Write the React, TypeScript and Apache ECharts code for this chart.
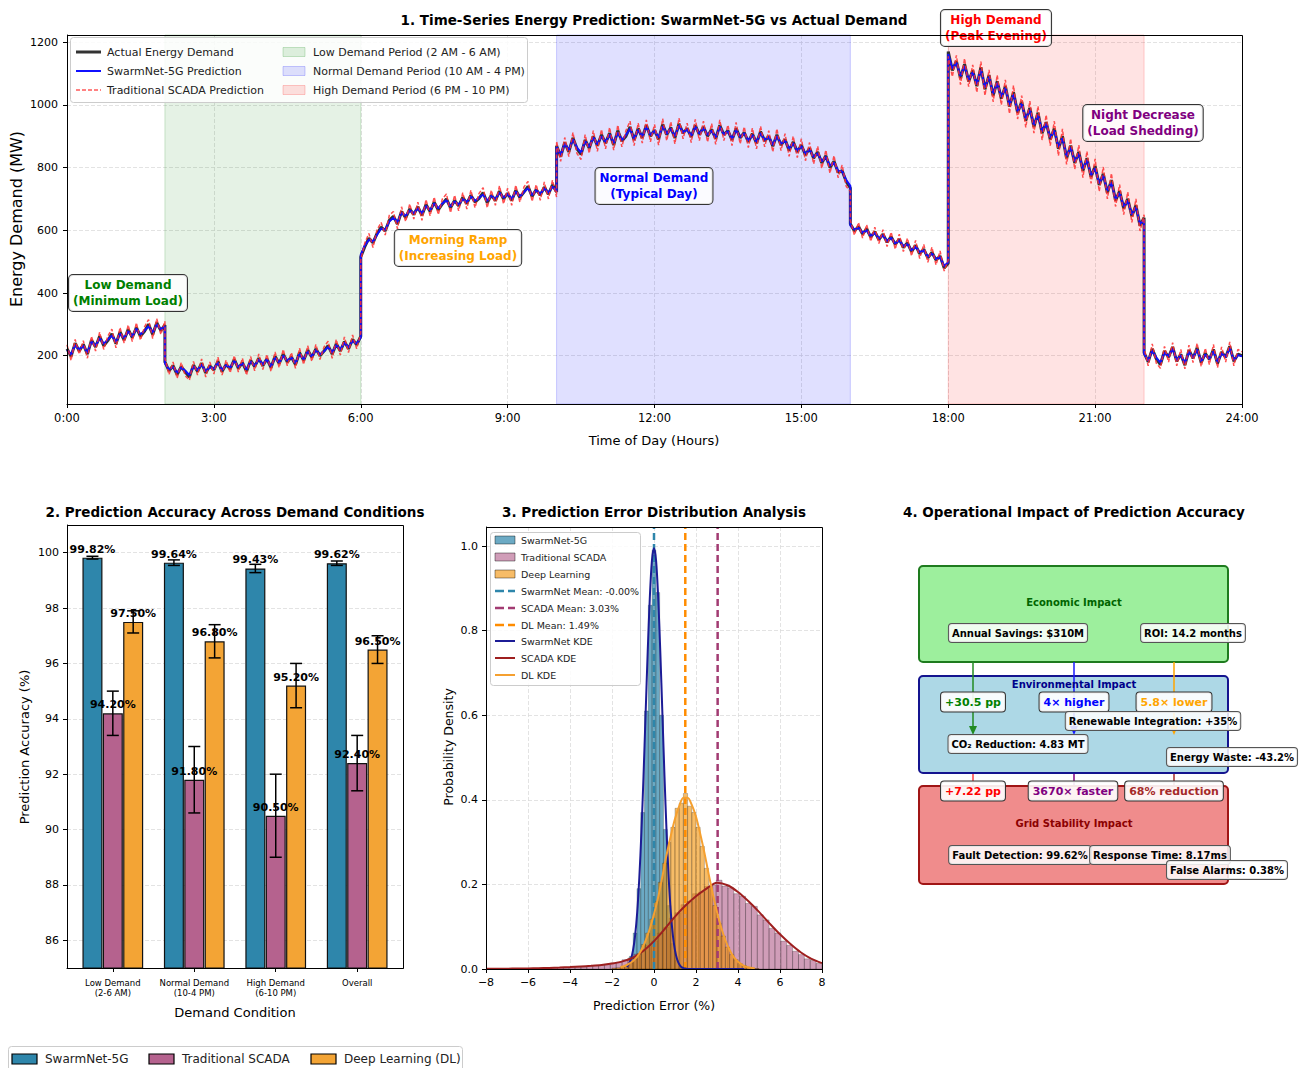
import React, { useEffect, useRef } from 'react';
import * as echarts from 'echarts';

const FONT = '"DejaVu Sans", sans-serif';

// ---------------- Panel 1: time series (5-minute readings per period) ----------------
const SEGMENT_BOUNDS = [[0, 2], [2, 6], [6, 10], [10, 16], [16, 18], [18, 22], [22, 24]];

const ACTUAL_EARLY = [222, 198, 240, 215, 236, 205, 250, 228, 262, 232, 248, 270, 238, 276, 250, 284, 258, 290, 262, 278, 300, 268, 305, 280, 298];
const ACTUAL_LOW = [180, 152, 168, 140, 165, 148, 132, 170, 150, 176, 145, 168, 155, 182, 150, 172, 158, 188, 160, 178, 150, 185, 165, 192, 168, 190, 162, 198, 175, 205, 180, 196, 172, 210, 185, 218, 195, 222, 200, 215, 232, 205, 238, 215, 245, 222, 252, 235, 262];
const ACTUAL_MORNING = [515, 548, 575, 560, 590, 610, 598, 632, 645, 620, 660, 640, 668, 650, 675, 648, 682, 660, 690, 665, 684, 700, 672, 695, 678, 705, 685, 712, 690, 702, 720, 688, 712, 695, 725, 700, 718, 695, 728, 705, 722, 740, 708, 730, 712, 738, 715, 745, 722];
const ACTUAL_NORMAL = [870, 835, 880, 850, 895, 860, 842, 888, 862, 900, 870, 905, 878, 910, 872, 918, 885, 900, 930, 888, 925, 895, 935, 900, 920, 890, 938, 905, 928, 895, 940, 910, 925, 898, 935, 905, 930, 900, 922, 892, 935, 905, 918, 888, 925, 895, 912, 882, 908, 878, 915, 885, 900, 868, 905, 872, 890, 855, 882, 850, 872, 840, 862, 830, 850, 815, 838, 800, 820, 785, 790, 755, 735];
const ACTUAL_AFTERNOON = [620, 598, 612, 588, 605, 578, 596, 570, 588, 562, 580, 555, 572, 545, 560, 532, 552, 525, 540, 512, 530, 505, 518, 480, 495];
const ACTUAL_HIGH = [1170, 1110, 1140, 1085, 1130, 1075, 1110, 1060, 1120, 1050, 1095, 1030, 1075, 1020, 1060, 995, 1040, 975, 1010, 950, 990, 930, 975, 910, 945, 890, 925, 860, 900, 830, 870, 815, 850, 790, 830, 770, 805, 745, 780, 720, 760, 695, 725, 670, 700, 645, 680, 615, 640];
const ACTUAL_NIGHT = [210, 180, 222, 190, 172, 215, 195, 228, 182, 205, 170, 218, 192, 225, 178, 208, 188, 220, 175, 212, 195, 230, 182, 205, 200];

const SWARM_EARLY = [218, 204, 234, 220, 232, 210, 245, 232, 256, 238, 252, 264, 244, 270, 256, 278, 262, 286, 268, 280, 294, 274, 300, 284, 294];
const SWARM_LOW = [176, 156, 164, 146, 162, 152, 138, 166, 154, 172, 150, 164, 158, 178, 154, 170, 162, 184, 164, 176, 156, 182, 168, 188, 172, 188, 166, 194, 178, 200, 184, 194, 176, 206, 188, 214, 198, 218, 204, 214, 228, 210, 234, 220, 242, 226, 248, 238, 258];
const SWARM_MORNING = [522, 552, 570, 564, 586, 606, 602, 628, 640, 626, 656, 646, 664, 654, 670, 654, 678, 664, 686, 670, 686, 696, 676, 692, 682, 700, 690, 708, 694, 704, 714, 694, 710, 700, 720, 704, 716, 700, 724, 708, 722, 734, 712, 728, 716, 734, 720, 740, 724];
const SWARM_NORMAL = [866, 840, 876, 856, 890, 864, 848, 884, 866, 896, 874, 900, 882, 906, 878, 912, 888, 904, 924, 892, 920, 900, 930, 904, 918, 896, 932, 908, 924, 900, 934, 912, 922, 902, 930, 908, 926, 904, 918, 896, 930, 906, 916, 892, 920, 898, 910, 886, 904, 882, 910, 888, 898, 872, 900, 876, 886, 860, 878, 854, 868, 844, 858, 834, 846, 820, 834, 806, 816, 790, 788, 760, 742];
const SWARM_AFTERNOON = [616, 602, 608, 592, 600, 582, 592, 574, 584, 566, 576, 558, 568, 550, 556, 536, 548, 530, 536, 516, 526, 508, 514, 486, 498];
const SWARM_HIGH = [1162, 1116, 1134, 1092, 1124, 1080, 1104, 1066, 1112, 1056, 1090, 1036, 1070, 1026, 1054, 1000, 1034, 980, 1004, 956, 984, 936, 968, 916, 940, 896, 918, 866, 894, 836, 864, 820, 844, 796, 824, 776, 798, 750, 774, 726, 752, 700, 720, 676, 694, 650, 674, 620, 634];
const SWARM_NIGHT = [206, 184, 216, 194, 178, 210, 198, 222, 186, 202, 176, 212, 194, 220, 182, 204, 190, 214, 180, 208, 196, 224, 186, 202, 198];

const SCADA_EARLY = [235, 185, 252, 205, 248, 192, 262, 215, 275, 220, 262, 285, 225, 290, 240, 298, 245, 305, 250, 292, 315, 255, 318, 268, 310];
const SCADA_LOW = [192, 140, 180, 128, 178, 136, 122, 182, 138, 190, 132, 180, 142, 195, 138, 186, 146, 200, 148, 192, 138, 198, 152, 206, 156, 204, 150, 212, 162, 220, 168, 210, 160, 224, 172, 232, 182, 236, 188, 228, 246, 192, 252, 202, 260, 210, 266, 222, 272];
const SCADA_MORNING = [505, 560, 590, 545, 602, 625, 585, 648, 660, 605, 675, 628, 684, 636, 690, 632, 698, 646, 706, 650, 700, 716, 656, 712, 662, 720, 668, 728, 672, 718, 736, 672, 728, 680, 742, 684, 734, 680, 744, 690, 738, 756, 692, 746, 696, 754, 700, 760, 706];
const SCADA_NORMAL = [884, 820, 896, 835, 912, 845, 826, 905, 846, 918, 852, 922, 860, 928, 856, 936, 866, 918, 948, 870, 942, 878, 952, 882, 938, 872, 956, 886, 946, 876, 958, 892, 942, 880, 954, 886, 948, 882, 940, 874, 952, 886, 936, 870, 944, 876, 930, 864, 926, 860, 932, 866, 918, 850, 924, 854, 908, 836, 900, 832, 892, 822, 880, 812, 868, 798, 856, 782, 838, 768, 808, 740, 725];
const SCADA_AFTERNOON = [632, 585, 625, 575, 618, 565, 610, 558, 602, 548, 594, 540, 588, 532, 575, 518, 568, 510, 555, 498, 546, 490, 534, 470, 505];
const SCADA_HIGH = [1155, 1090, 1158, 1065, 1148, 1058, 1128, 1040, 1138, 1030, 1112, 1010, 1095, 1000, 1080, 972, 1062, 955, 1030, 928, 1012, 910, 996, 888, 968, 870, 948, 838, 924, 810, 892, 795, 872, 768, 852, 750, 828, 724, 802, 700, 782, 676, 746, 650, 722, 625, 700, 598, 650];
const SCADA_NIGHT = [225, 168, 238, 176, 160, 230, 180, 242, 168, 220, 158, 234, 178, 240, 165, 224, 172, 236, 162, 228, 180, 244, 168, 220, 212];

const ACTUAL = [ACTUAL_EARLY, ACTUAL_LOW, ACTUAL_MORNING, ACTUAL_NORMAL, ACTUAL_AFTERNOON, ACTUAL_HIGH, ACTUAL_NIGHT];
const SWARM = [SWARM_EARLY, SWARM_LOW, SWARM_MORNING, SWARM_NORMAL, SWARM_AFTERNOON, SWARM_HIGH, SWARM_NIGHT];
const SCADA = [SCADA_EARLY, SCADA_LOW, SCADA_MORNING, SCADA_NORMAL, SCADA_AFTERNOON, SCADA_HIGH, SCADA_NIGHT];

const PERIOD_LOW = [2, 6];
const PERIOD_NORMAL = [10, 16];
const PERIOD_HIGH = [18, 22];

// ---------------- Panel 2: accuracy ----------------
const CONDITIONS = ['Low Demand\n(2-6 AM)', 'Normal Demand\n(10-4 PM)', 'High Demand\n(6-10 PM)', 'Overall'];
const SWARM_ACC = [99.82, 99.64, 99.43, 99.62];
const SWARM_STD = [0.05, 0.1, 0.15, 0.08];
const SCADA_ACC = [94.2, 91.8, 90.5, 92.4];
const SCADA_STD = [0.8, 1.2, 1.5, 1.0];
const DL_ACC = [97.5, 96.8, 95.2, 96.5];
const DL_STD = [0.4, 0.6, 0.8, 0.5];

// ---------------- Panel 3: error distribution ----------------
const SWARM_BIN_START = -1.35;
const SWARM_BIN_WIDTH = 0.18;
const SWARM_HIST = [0.005, 0.03, 0.085, 0.19, 0.37, 0.61, 0.86, 0.99, 0.89, 0.6, 0.33, 0.15, 0.06, 0.02, 0.006];
const DL_BIN_START = -2.0;
const DL_BIN_WIDTH = 0.2;
const DL_HIST = [0.002, 0.003, 0.005, 0.009, 0.015, 0.024, 0.036, 0.058, 0.085, 0.118, 0.16, 0.205, 0.25, 0.3, 0.335, 0.38, 0.392, 0.415, 0.385, 0.37, 0.335, 0.29, 0.238, 0.195, 0.15, 0.108, 0.078, 0.052, 0.034, 0.022, 0.013, 0.008, 0.004, 0.002, 0.001];
const SCADA_BIN_START = -6.0;
const SCADA_BIN_WIDTH = 0.28;
const SCADA_HIST = [
  0.001, 0.001, 0.002, 0.001, 0.002, 0.003, 0.002, 0.004, 0.004, 0.005,
  0.006, 0.008, 0.009, 0.01, 0.014, 0.016, 0.022, 0.026, 0.035, 0.041,
  0.056, 0.066, 0.085, 0.098, 0.12, 0.133, 0.152, 0.16, 0.178, 0.182,
  0.195, 0.198, 0.21, 0.196, 0.192, 0.178, 0.172, 0.155, 0.148, 0.128,
  0.116, 0.096, 0.085, 0.066, 0.056, 0.042, 0.034, 0.024, 0.02, 0.013,
];
const SWARM_KDE_START = -1.3;
const SWARM_KDE_STEP = 0.1;
const SWARM_KDE = [0.005, 0.011, 0.023, 0.044, 0.079, 0.134, 0.215, 0.323, 0.455, 0.603, 0.75, 0.877, 0.965, 0.995, 0.965, 0.877, 0.75, 0.603, 0.455, 0.323, 0.215, 0.134, 0.079, 0.044, 0.023, 0.011, 0.005, 0.002, 0.001, 0.0];
const SWARM_KDE_TAIL_END = 4.3;
const DL_KDE_START = -1.6;
const DL_KDE_STEP = 0.2;
const DL_KDE = [0.004, 0.007, 0.012, 0.019, 0.029, 0.045, 0.067, 0.095, 0.13, 0.17, 0.219, 0.27, 0.315, 0.355, 0.385, 0.405, 0.405, 0.388, 0.36, 0.32, 0.275, 0.225, 0.178, 0.135, 0.098, 0.068, 0.045, 0.028, 0.017, 0.01, 0.005, 0.003, 0.001];
const SCADA_KDE_START = -8;
const SCADA_KDE_STEP = 0.5;
const SCADA_KDE = [0.0005, 0.0006, 0.0008, 0.001, 0.0013, 0.0018, 0.0025, 0.0033, 0.0045, 0.006, 0.0075, 0.0095, 0.013, 0.018, 0.027, 0.043, 0.066, 0.094, 0.124, 0.15, 0.172, 0.19, 0.204, 0.198, 0.182, 0.16, 0.135, 0.108, 0.082, 0.059, 0.039, 0.024, 0.014];
const SWARM_MEAN = -0.0;
const SCADA_MEAN = 3.03;
const DL_MEAN = 1.49;

const C_SWARM = '#2E86AB';
const C_SCADA = '#B5628E';
const C_DL = '#F3A435';

function buildSeries(segs: number[][]) {
  const out: number[][] = [];
  segs.forEach((vals, i) => {
    const [s, e] = SEGMENT_BOUNDS[i];
    const n = vals.length;
    vals.forEach((v, k) => out.push([s + (k * (e - s)) / (n - 1), v]));
  });
  return out;
}

function bins(start: number, width: number, heights: number[]) {
  return heights.map((h, i) => [start + i * width, start + (i + 1) * width, h]);
}

function curve(start: number, step: number, ys: number[]) {
  return ys.map((y, i) => [start + i * step, y]);
}

function txt(text: string, x: number, y: number, o: any = {}) {
  return {
    type: 'text',
    z: o.z ?? 50,
    x: o.ex ?? 0,
    y: o.ey ?? 0,
    rotation: o.rotation ?? 0,
    style: {
      text,
      x,
      y,
      fontSize: o.size ?? 11,
      fontWeight: o.weight ?? 'normal',
      fontFamily: o.family ?? FONT,
      fill: o.color ?? '#000',
      align: o.align ?? 'left',
      verticalAlign: 'middle',
      lineHeight: o.lh,
      backgroundColor: o.bg,
      borderColor: o.border,
      borderWidth: o.border ? 1 : 0,
      borderRadius: o.radius ?? 0,
      padding: o.pad,
    },
  };
}

function frame(x: number, y: number, w: number, h: number) {
  return { type: 'rect', z: 60, shape: { x: x + 0.5, y: y + 0.5, width: w, height: h }, style: { fill: 'none', stroke: '#000', lineWidth: 1 } };
}

function arrow(x: number, y1: number, y2: number, color: string) {
  return [
    { type: 'line', z: 45, shape: { x1: x, y1, x2: x, y2: y2 - 7 }, style: { stroke: color, lineWidth: 1.5 } },
    { type: 'polygon', z: 45, shape: { points: [[x - 4, y2 - 9], [x + 4, y2 - 9], [x, y2]] }, style: { fill: color } },
  ];
}

function annot(text: string, x: number, y: number, color: string) {
  return txt(text, x, y, { size: 12, weight: 'bold', color, align: 'center', lh: 16, bg: 'rgba(255,255,255,0.85)', border: '#333', radius: 4, pad: [2, 4, 2, 4] });
}

function subLabel(text: string, x: number, y: number) {
  return txt(text, x, y, { size: 10, weight: 'bold', align: 'center', lh: 12, bg: 'rgba(255,255,255,0.85)', border: '#555', radius: 3, pad: [3, 3, 3, 3] });
}

function arrowLabel(text: string, x: number, y: number, color: string) {
  return txt(text, x, y, { size: 11, weight: 'bold', color, align: 'center', lh: 13, bg: 'rgba(255,255,255,0.9)', border: '#333', radius: 3, pad: [3, 4, 3, 4] });
}

function buildOption() {
  const tickStyle = { show: true, length: 4, lineStyle: { color: '#000', width: 1 } };
  const axisLine = { show: true, onZero: false, lineStyle: { color: '#000', width: 1 } };
  const gridLine = { show: true, lineStyle: { color: '#dcdcdc', width: 0.8, type: [4, 2] } };
  const lbl = { color: '#000', fontFamily: FONT, fontSize: 11 };

  const errData: number[][] = [];
  const offsets = [-0.25, 0, 0.25];
  [[SWARM_ACC, SWARM_STD], [SCADA_ACC, SCADA_STD], [DL_ACC, DL_STD]].forEach(([acc, std], j) => {
    acc.forEach((v, i) => errData.push([i + offsets[j], v, std[i]]));
  });

  const barSeries = (name: string, acc: number[], j: number, color: string) => ({
    name,
    type: 'bar',
    xAxisIndex: 1,
    yAxisIndex: 1,
    barWidth: 20,
    barGap: '-100%',
    data: acc.map((v, i) => [i + offsets[j], v]),
    itemStyle: { color, borderColor: '#111', borderWidth: 1.2 },
    label: {
      show: true,
      position: 'top',
      distance: 3,
      formatter: (p: any) => p.value[1].toFixed(2) + '%',
      fontSize: 11,
      fontWeight: 'bold',
      color: '#000',
      fontFamily: FONT,
    },
    z: 3,
  });

  const histSeries = (name: string, data: number[][], fill: string) => ({
    name,
    type: 'custom',
    xAxisIndex: 2,
    yAxisIndex: 2,
    clip: true,
    encode: { x: [0, 1], y: 2 },
    data,
    renderItem: (params: any, api: any) => {
      const p0 = api.coord([api.value(0), api.value(2)]);
      const p1 = api.coord([api.value(1), 0]);
      return {
        type: 'rect',
        shape: { x: p0[0], y: p0[1], width: p1[0] - p0[0], height: p1[1] - p0[1] },
        style: { fill, stroke: 'rgba(0,0,0,0.45)', lineWidth: 0.5 },
      };
    },
  });

  const meanSeries = (name: string, m: number, color: string) => ({
    name,
    type: 'line',
    xAxisIndex: 2,
    yAxisIndex: 2,
    symbol: 'none',
    data: [[m, 0], [m, 1.045]],
    lineStyle: { color, width: 2.5, type: [7, 4] },
    z: 4,
  });

  const kdeSeries = (name: string, data: number[][], color: string) => ({
    name,
    type: 'line',
    xAxisIndex: 2,
    yAxisIndex: 2,
    symbol: 'none',
    smooth: 0.3,
    data,
    lineStyle: { color, width: 2 },
    z: 5,
  });

  const swarmKde = curve(SWARM_KDE_START, SWARM_KDE_STEP, SWARM_KDE);
  swarmKde.push([SWARM_KDE_TAIL_END, 0]);

  const band = (range: number[], fill: string, edge: string) => [
    { xAxis: range[0], itemStyle: { color: fill, borderColor: edge, borderWidth: 1 } },
    { xAxis: range[1] },
  ];

  const legendLine = (x: number, y: number, color: string, width: number, dash?: number[], opacity = 1) => ({
    type: 'line', z: 55, shape: { x1: x, y1: y, x2: x + 25, y2: y },
    style: { stroke: color, lineWidth: width, lineDash: dash, opacity },
  });
  const legendPatch = (x: number, y: number, w: number, h: number, fill: string, stroke: string, lw = 1) => ({
    type: 'rect', z: 55, shape: { x, y: y - h / 2, width: w, height: h },
    style: { fill, stroke, lineWidth: lw },
  });

  const p3y = [540, 557, 574, 591, 608, 625, 641, 658, 675];
  const p3Lbl = (t: string, i: number) => txt(t, 521, p3y[i], { size: 9.5, color: '#222', z: 56 });
  const p3Line = (i: number, color: string, width: number, dash?: number[]) => ({
    type: 'line', z: 55, shape: { x1: 495, y1: p3y[i], x2: 515, y2: p3y[i] },
    style: { stroke: color, lineWidth: width, lineDash: dash },
  });
  const p3Patch = (i: number, fill: string) => ({
    type: 'rect', z: 55, shape: { x: 495, y: p3y[i] - 4, width: 20, height: 8 },
    style: { fill, stroke: 'rgba(0,0,0,0.5)', lineWidth: 0.8 },
  });

  const graphic: any[] = [
    // titles
    txt('1. Time-Series Energy Prediction: SwarmNet-5G vs Actual Demand', 654, 20, { size: 13.5, weight: 'bold', align: 'center' }),
    txt('2. Prediction Accuracy Across Demand Conditions', 235, 512, { size: 13.5, weight: 'bold', align: 'center' }),
    txt('3. Prediction Error Distribution Analysis', 654, 512, { size: 13.5, weight: 'bold', align: 'center' }),
    txt('4. Operational Impact of Prediction Accuracy', 1074, 512, { size: 13.5, weight: 'bold', align: 'center' }),
    // axis names
    txt('Time of Day (Hours)', 654, 440, { size: 13, align: 'center' }),
    txt('Energy Demand (MW)', 0, 0, { size: 16, align: 'center', ex: 16, ey: 219, rotation: Math.PI / 2 }),
    txt('Demand Condition', 235, 1012, { size: 13, align: 'center' }),
    txt('Prediction Accuracy (%)', 0, 0, { size: 13, align: 'center', ex: 24, ey: 747, rotation: Math.PI / 2 }),
    txt('Prediction Error (%)', 654, 1005, { size: 12.5, align: 'center' }),
    txt('Probability Density', 0, 0, { size: 12.5, align: 'center', ex: 448, ey: 747, rotation: Math.PI / 2 }),
    // frames
    frame(67, 35, 1175, 369),
    frame(67, 525, 336, 443),
    frame(486, 527, 336, 442),
    // panel 1 annotations
    annot('Low Demand\n(Minimum Load)', 128, 293, '#008000'),
    annot('Morning Ramp\n(Increasing Load)', 458, 248, '#FFA500'),
    annot('Normal Demand\n(Typical Day)', 654, 186, '#0000FF'),
    annot('High Demand\n(Peak Evening)', 996, 28, '#FF0000'),
    annot('Night Decrease\n(Load Shedding)', 1143, 123, '#800080'),
    // panel 1 legend
    { type: 'rect', z: 54, shape: { x: 70.5, y: 37.5, width: 457, height: 65, r: 3 }, style: { fill: 'rgba(255,255,255,0.85)', stroke: '#cccccc', lineWidth: 1 } },
    legendLine(76, 52, '#333333', 3),
    legendLine(76, 71, '#1010ff', 2),
    legendLine(76, 90, '#ff3030', 1.5, [4, 2], 0.8),
    txt('Actual Energy Demand', 107, 52, { size: 11, color: '#222', z: 56 }),
    txt('SwarmNet-5G Prediction', 107, 71, { size: 11, color: '#222', z: 56 }),
    txt('Traditional SCADA Prediction', 107, 90, { size: 11, color: '#222', z: 56 }),
    legendPatch(283, 52, 22, 9, 'rgba(0,128,0,0.12)', 'rgba(0,128,0,0.2)'),
    legendPatch(283, 71, 22, 9, 'rgba(0,0,255,0.12)', 'rgba(0,0,255,0.2)'),
    legendPatch(283, 90, 22, 9, 'rgba(255,0,0,0.12)', 'rgba(255,0,0,0.2)'),
    txt('Low Demand Period (2 AM - 6 AM)', 313, 52, { size: 11, color: '#222', z: 56 }),
    txt('Normal Demand Period (10 AM - 4 PM)', 313, 71, { size: 11, color: '#222', z: 56 }),
    txt('High Demand Period (6 PM - 10 PM)', 313, 90, { size: 11, color: '#222', z: 56 }),
    // panel 3 legend
    { type: 'rect', z: 54, shape: { x: 490.5, y: 532.5, width: 150, height: 153, r: 3 }, style: { fill: 'rgba(255,255,255,0.85)', stroke: '#cccccc', lineWidth: 1 } },
    p3Patch(0, 'rgba(46,134,171,0.7)'),
    p3Patch(1, 'rgba(162,59,114,0.5)'),
    p3Patch(2, 'rgba(241,143,1,0.6)'),
    p3Line(3, C_SWARM, 2.5, [9, 4]),
    p3Line(4, '#A23B72', 2.5, [9, 4]),
    p3Line(5, '#FF8C00', 2.5, [9, 4]),
    p3Line(6, '#1c1c96', 2),
    p3Line(7, '#9e1f1f', 2),
    p3Line(8, '#F5A030', 2),
    p3Lbl('SwarmNet-5G', 0),
    p3Lbl('Traditional SCADA', 1),
    p3Lbl('Deep Learning', 2),
    p3Lbl('SwarmNet Mean: -0.00%', 3),
    p3Lbl('SCADA Mean: 3.03%', 4),
    p3Lbl('DL Mean: 1.49%', 5),
    p3Lbl('SwarmNet KDE', 6),
    p3Lbl('SCADA KDE', 7),
    p3Lbl('DL KDE', 8),
    // bottom legend
    { type: 'rect', z: 54, shape: { x: 8.5, y: 1046.5, width: 454, height: 32, r: 3 }, style: { fill: '#fff', stroke: '#cccccc', lineWidth: 1 } },
    legendPatch(12, 1059, 25, 10, C_SWARM, '#000', 1.2),
    legendPatch(149, 1059, 25, 10, C_SCADA, '#000', 1.2),
    legendPatch(311, 1059, 25, 10, C_DL, '#000', 1.2),
    txt('SwarmNet-5G', 45, 1059, { size: 12, color: '#222', z: 56 }),
    txt('Traditional SCADA', 182, 1059, { size: 12, color: '#222', z: 56 }),
    txt('Deep Learning (DL)', 344, 1059, { size: 12, color: '#222', z: 56 }),
    // panel 4 boxes
    { type: 'rect', z: 40, shape: { x: 919, y: 566, width: 309, height: 96, r: 4 }, style: { fill: '#9DEF9D', stroke: '#1E7B1E', lineWidth: 2 } },
    { type: 'rect', z: 40, shape: { x: 919, y: 676, width: 309, height: 97, r: 4 }, style: { fill: '#ADD8E6', stroke: '#14148F', lineWidth: 2 } },
    { type: 'rect', z: 40, shape: { x: 919, y: 786, width: 309, height: 98, r: 4 }, style: { fill: '#F08C8C', stroke: '#A01515', lineWidth: 2 } },
    txt('Economic Impact', 1074, 602, { size: 10, weight: 'bold', color: '#006400', align: 'center', z: 46 }),
    txt('Environmental Impact', 1074, 684, { size: 10, weight: 'bold', color: '#00008B', align: 'center', z: 46 }),
    txt('Grid Stability Impact', 1074, 823, { size: 10, weight: 'bold', color: '#8B0000', align: 'center', z: 46 }),
    ...arrow(973, 662, 735, '#228B22'),
    ...arrow(1074, 662, 735, '#1a1aff'),
    ...arrow(1174, 662, 735, '#FFA500'),
    { type: 'line', z: 39, shape: { x1: 973, y1: 773, x2: 973, y2: 790 }, style: { stroke: '#ff4040', lineWidth: 1.5 } },
    { type: 'line', z: 39, shape: { x1: 1074, y1: 773, x2: 1074, y2: 790 }, style: { stroke: '#800080', lineWidth: 1.5 } },
    { type: 'line', z: 39, shape: { x1: 1174, y1: 773, x2: 1174, y2: 790 }, style: { stroke: '#A52A2A', lineWidth: 1.5 } },
    subLabel('Annual Savings: $310M', 1018, 633),
    subLabel('ROI: 14.2 months', 1193, 633),
    arrowLabel('+30.5 pp', 973, 702, '#008000'),
    arrowLabel('4× higher', 1074, 702, '#0000FF'),
    arrowLabel('5.8× lower', 1174, 702, '#FFA500'),
    subLabel('Renewable Integration: +35%', 1153, 721),
    subLabel('CO₂ Reduction: 4.83 MT', 1018, 744),
    subLabel('Energy Waste: -43.2%', 1232, 757),
    arrowLabel('+7.22 pp', 973, 791, '#FF0000'),
    arrowLabel('3670× faster', 1073, 791, '#800080'),
    arrowLabel('68% reduction', 1174, 791, '#A52A2A'),
    subLabel('Fault Detection: 99.62%', 1020, 855),
    subLabel('Response Time: 8.17ms', 1160, 855),
    subLabel('False Alarms: 0.38%', 1227, 870),
  ];

  return {
    animation: false,
    backgroundColor: '#ffffff',
    textStyle: { fontFamily: FONT },
    grid: [
      { left: 67, top: 35, width: 1175, height: 369 },
      { left: 67, top: 525, width: 336, height: 443 },
      { left: 486, top: 527, width: 336, height: 442 },
    ],
    xAxis: [
      {
        type: 'value', gridIndex: 0, min: 0, max: 24, interval: 3,
        axisLine, axisTick: tickStyle, splitLine: gridLine,
        axisLabel: { ...lbl, fontSize: 11.5, margin: 8, formatter: (v: number) => `${v}:00` },
      },
      {
        type: 'value', gridIndex: 1, min: -0.5625, max: 3.5625,
        axisLine, splitLine: { show: false },
        axisTick: { ...tickStyle, customValues: [0, 1, 2, 3] },
        axisLabel: {
          ...lbl, fontSize: 8.5, lineHeight: 10, margin: 10,
          customValues: [0, 1, 2, 3],
          formatter: (v: number) => CONDITIONS[Math.round(v)] ?? '',
        },
      },
      {
        type: 'value', gridIndex: 2, min: -8, max: 8, interval: 2,
        axisLine, axisTick: tickStyle, splitLine: gridLine,
        axisLabel: { ...lbl, margin: 8, formatter: (v: number) => (v < 0 ? '\u2212' + Math.abs(v) : String(v)) },
      },
    ],
    yAxis: [
      {
        type: 'value', gridIndex: 0, min: 46, max: 1223, splitNumber: 6,
        axisLine, axisTick: tickStyle, splitLine: gridLine,
        axisLabel: { ...lbl, margin: 9, showMinLabel: false, showMaxLabel: false, formatter: (v: number) => String(v) },
      },
      {
        type: 'value', gridIndex: 1, min: 85, max: 101, splitNumber: 8,
        axisLine, axisTick: tickStyle, splitLine: gridLine,
        axisLabel: { ...lbl, margin: 8, showMinLabel: false, showMaxLabel: false, formatter: (v: number) => String(v) },
      },
      {
        type: 'value', gridIndex: 2, min: 0, max: 1.045, interval: 0.2,
        axisLine, axisTick: tickStyle, splitLine: gridLine,
        axisLabel: { ...lbl, margin: 8, showMaxLabel: false, formatter: (v: number) => v.toFixed(1) },
      },
    ],
    graphic,
    series: [
      {
        name: 'Actual Energy Demand', type: 'line', xAxisIndex: 0, yAxisIndex: 0,
        symbol: 'none', data: buildSeries(ACTUAL),
        lineStyle: { color: '#333333', width: 3 },
        markArea: {
          silent: true,
          data: [
            band(PERIOD_LOW, 'rgba(0,128,0,0.1)', 'rgba(0,128,0,0.18)'),
            band(PERIOD_NORMAL, 'rgba(0,0,255,0.12)', 'rgba(0,0,255,0.18)'),
            band(PERIOD_HIGH, 'rgba(255,0,0,0.11)', 'rgba(255,0,0,0.18)'),
          ],
        },
      },
      {
        name: 'SwarmNet-5G Prediction', type: 'line', xAxisIndex: 0, yAxisIndex: 0,
        symbol: 'none', data: buildSeries(SWARM),
        lineStyle: { color: '#1010ff', width: 2 },
      },
      {
        name: 'Traditional SCADA Prediction', type: 'line', xAxisIndex: 0, yAxisIndex: 0,
        symbol: 'none', data: buildSeries(SCADA),
        lineStyle: { color: '#ff3030', width: 1.5, type: [4, 2], opacity: 0.85 },
      },
      barSeries('SwarmNet-5G', SWARM_ACC, 0, C_SWARM),
      barSeries('Traditional SCADA', SCADA_ACC, 1, C_SCADA),
      barSeries('Deep Learning (DL)', DL_ACC, 2, C_DL),
      {
        name: 'Error bars', type: 'custom', xAxisIndex: 1, yAxisIndex: 1,
        encode: { x: 0, y: 1 }, data: errData, z: 4,
        renderItem: (params: any, api: any) => {
          const x = api.value(0), v = api.value(1), s = api.value(2);
          const t = api.coord([x, v + s]);
          const b = api.coord([x, v - s]);
          const st = { stroke: '#000', lineWidth: 1.5 };
          return {
            type: 'group',
            children: [
              { type: 'line', shape: { x1: t[0], y1: t[1], x2: b[0], y2: b[1] }, style: st },
              { type: 'line', shape: { x1: t[0] - 6, y1: t[1], x2: t[0] + 6, y2: t[1] }, style: st },
              { type: 'line', shape: { x1: b[0] - 6, y1: b[1], x2: b[0] + 6, y2: b[1] }, style: st },
            ],
          };
        },
      },
      histSeries('SwarmNet-5G hist', bins(SWARM_BIN_START, SWARM_BIN_WIDTH, SWARM_HIST), 'rgba(46,134,171,0.7)'),
      histSeries('Traditional SCADA hist', bins(SCADA_BIN_START, SCADA_BIN_WIDTH, SCADA_HIST), 'rgba(162,59,114,0.5)'),
      histSeries('Deep Learning hist', bins(DL_BIN_START, DL_BIN_WIDTH, DL_HIST), 'rgba(241,143,1,0.6)'),
      meanSeries('SwarmNet Mean', SWARM_MEAN, C_SWARM),
      meanSeries('SCADA Mean', SCADA_MEAN, '#A23B72'),
      meanSeries('DL Mean', DL_MEAN, '#FF8C00'),
      kdeSeries('SwarmNet KDE', swarmKde, '#1c1c96'),
      kdeSeries('SCADA KDE', curve(SCADA_KDE_START, SCADA_KDE_STEP, SCADA_KDE), '#9e1f1f'),
      kdeSeries('DL KDE', curve(DL_KDE_START, DL_KDE_STEP, DL_KDE), '#F5A030'),
    ],
  };
}

export default function App() {
  const ref = useRef<HTMLDivElement>(null);
  useEffect(() => {
    document.body.style.margin = '0';
    const chart = echarts.init(ref.current!, null, { renderer: 'svg' });
    chart.setOption(buildOption() as any);
    return () => chart.dispose();
  }, []);
  return <div ref={ref} style={{ width: 1305, height: 1068 }} />;
}
